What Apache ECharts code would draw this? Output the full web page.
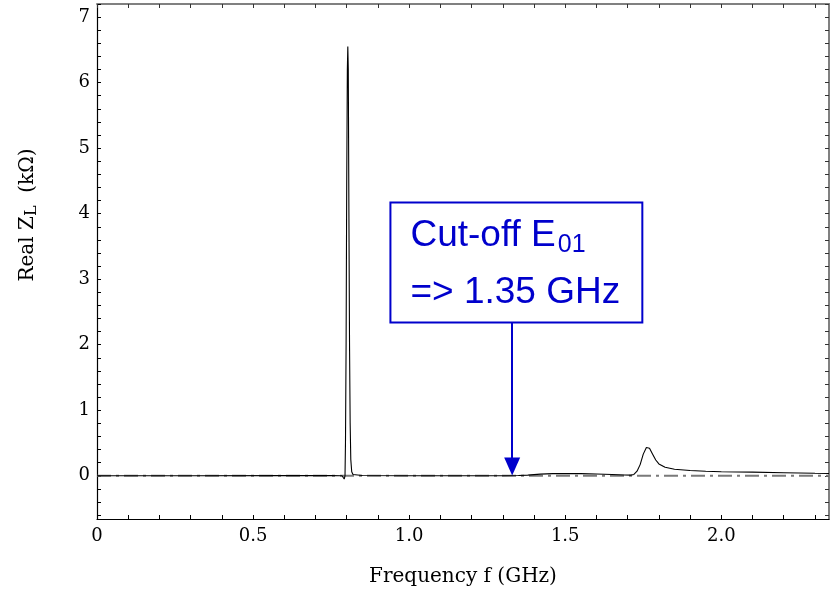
<!DOCTYPE html>
<html>
<head>
<meta charset="utf-8">
<script src="https://cdn.jsdelivr.net/npm/echarts@6/dist/echarts.min.js"></script>
<style>html,body{margin:0;padding:0;background:#fff}#c{width:834px;height:592px}</style>
</head>
<body>
<div id="c"></div>
<script>
// Frequency (GHz) and Real Z_L (kOhm)
var freq = [0.0, 0.3, 0.6, 0.75, 0.785, 0.790, 0.792, 0.7935, 0.7945, 0.796, 0.798, 0.800, 0.802, 0.8035, 0.805, 0.807, 0.809, 0.811, 0.813, 0.816, 0.82, 0.85, 1.0, 1.3, 1.35, 1.38, 1.42, 1.46, 1.5, 1.55, 1.6, 1.65, 1.69, 1.71, 1.72, 1.73, 1.74, 1.75, 1.76, 1.765, 1.77, 1.78, 1.79, 1.80, 1.82, 1.85, 1.9, 1.95, 2.0, 2.1, 2.2, 2.3, 2.345];
var realZ = [0.0, 0.0, 0.002, 0.004, 0.0, -0.02, -0.05, -0.03, 0.0, 0.5, 2.0, 4.5, 6.2, 6.55, 6.2, 4.0, 2.0, 0.8, 0.25, 0.06, 0.02, 0.005, 0.0, 0.0, 0.003, 0.01, 0.025, 0.033, 0.035, 0.032, 0.027, 0.02, 0.012, 0.01, 0.02, 0.07, 0.17, 0.33, 0.43, 0.435, 0.42, 0.33, 0.24, 0.18, 0.13, 0.1, 0.08, 0.068, 0.062, 0.055, 0.047, 0.038, 0.035];
// reference (zero) dash-dot line
var refFreq = [0.0, 2.345];
var refZ = [0.0, 0.0];

var xLabels = [0, 0.5, 1.0, 1.5, 2.0];
var xTicks = [0, 0.1, 0.2, 0.3, 0.4, 0.5, 0.6, 0.7, 0.8, 0.9, 1.0, 1.1, 1.2, 1.3, 1.4, 1.5, 1.6, 1.7, 1.8, 1.9, 2.0, 2.1, 2.2, 2.3];
var yLabels = [0, 1, 2, 3, 4, 5, 6, 7];
var yTicks = [-0.6, -0.4, -0.2, 0, 0.2, 0.4, 0.6, 0.8, 1, 1.2, 1.4, 1.6, 1.8, 2, 2.2, 2.4, 2.6, 2.8, 3, 3.2, 3.4, 3.6, 3.8, 4, 4.2, 4.4, 4.6, 4.8, 5, 5.2, 5.4, 5.6, 5.8, 6, 6.2, 6.4, 6.6, 6.8, 7, 7.2];

// annotation
var annoText1 = 'Cut-off E';
var annoSub = '01';
var annoText2 = '=> 1.35 GHz';
var arrowFreq = 1.33;
var boxX = [0.94, 1.747];
var boxY = [2.34, 4.17];

var X_MIN = 0, X_MAX = 2.345, Y_MIN = -0.66, Y_MAX = 7.2;
var serif = '"DejaVu Serif", serif';
var sans = '"Liberation Sans", Arial, sans-serif';
var blue = '#0000cc';

var chart = echarts.init(document.getElementById('c'));

function pairs(a, b) { return a.map(function (v, i) { return [v, b[i]]; }); }

chart.setOption({
  animation: false,
  grid: { left: 97, right: 5, top: 4, bottom: 72, containLabel: false },
  xAxis: [{
    type: 'value', min: X_MIN, max: X_MAX,
    name: 'Frequency f (GHz)', nameLocation: 'middle', nameGap: 48,
    nameTextStyle: { fontFamily: serif, fontSize: 20, color: '#000' },
    axisLine: { show: true, onZero: false, lineStyle: { color: '#000', width: 1.2 } },
    axisTick: { show: true, inside: true, length: 4, customValues: xTicks, lineStyle: { color: '#000' } },
    axisLabel: { customValues: xLabels, margin: 8, fontFamily: serif, fontSize: 18, color: '#000',
      formatter: function (v) { return v === 0 ? '0' : v.toFixed(1); } },
    splitLine: { show: false }
  }, {
    type: 'value', min: X_MIN, max: X_MAX, position: 'top',
    axisLine: { show: true, onZero: false, lineStyle: { color: '#808080', width: 2 } },
    axisTick: { show: true, inside: true, length: 4, customValues: xTicks, lineStyle: { color: '#333' } },
    axisLabel: { show: false },
    splitLine: { show: false }
  }],
  yAxis: [{
    type: 'value', min: Y_MIN, max: Y_MAX,
    axisLine: { show: true, onZero: false, lineStyle: { color: '#000', width: 1.2 } },
    axisTick: { show: true, inside: true, length: 4, customValues: yTicks, lineStyle: { color: '#000' } },
    axisLabel: { customValues: yLabels, margin: 7, fontFamily: serif, fontSize: 18, color: '#000' },
    splitLine: { show: false }
  }, {
    type: 'value', min: Y_MIN, max: Y_MAX, position: 'right',
    axisLine: { show: true, onZero: false, lineStyle: { color: '#808080', width: 2 } },
    axisTick: { show: true, inside: true, length: 4, customValues: yTicks, lineStyle: { color: '#333' } },
    axisLabel: { show: false },
    splitLine: { show: false }
  }],
  series: [{
    type: 'line', name: 'ref', data: pairs(refFreq, refZ), symbol: 'none', silent: true,
    lineStyle: { color: '#7a7a7a', width: 2, type: [14, 5, 3, 5] }, z: 1
  }, {
    type: 'line', name: 'Real Z_L', data: pairs(freq, realZ), symbol: 'none', silent: true,
    lineStyle: { color: '#000', width: 1.1 }, z: 2,
    markLine: {
      silent: true, symbol: ['none', 'triangle'], symbolSize: [16, 18],
      label: { show: false },
      lineStyle: { color: blue, width: 2, type: 'solid' },
      data: [[{ coord: [arrowFreq, boxY[0]] }, { coord: [arrowFreq, 0.14] }]]
    }
  }]
});

var p0 = chart.convertToPixel({ gridIndex: 0 }, [boxX[0], boxY[1]]);
var p1 = chart.convertToPixel({ gridIndex: 0 }, [boxX[1], boxY[0]]);
var bw = p1[0] - p0[0], bh = p1[1] - p0[1];

chart.setOption({
  graphic: [{
    type: 'text', x: 28, y: 215, rotation: Math.PI / 2,
    style: {
      text: '{a|Real Z}{s|L}{a|  (kΩ)}',
      textAlign: 'center', textVerticalAlign: 'middle',
      rich: {
        a: { fontFamily: serif, fontSize: 20, fill: '#000' },
        s: { fontFamily: serif, fontSize: 16, fill: '#000', padding: [8, 0, 0, 0] }
      }
    }
  }, {
    type: 'rect', shape: { x: p0[0], y: p0[1], width: bw, height: bh },
    style: { fill: '#fff', stroke: blue, lineWidth: 2 }, z: 100
  }, {
    type: 'text', x: p0[0] + 20, y: p0[1] + 33, z: 101,
    style: {
      text: '{a|' + annoText1 + '}{s|' + annoSub + '}',
      textVerticalAlign: 'middle',
      rich: {
        a: { fontFamily: sans, fontSize: 37, fill: blue, verticalAlign: 'bottom' },
        s: { fontFamily: sans, fontSize: 25, fill: blue, verticalAlign: 'bottom', padding: [0, 0, -4, 2] }
      }
    }
  }, {
    type: 'text', x: p0[0] + 20, y: p0[1] + 90, z: 101,
    style: {
      text: annoText2, textVerticalAlign: 'middle',
      font: '37px ' + sans, fill: blue
    }
  }]
});
</script>
</body>
</html>
